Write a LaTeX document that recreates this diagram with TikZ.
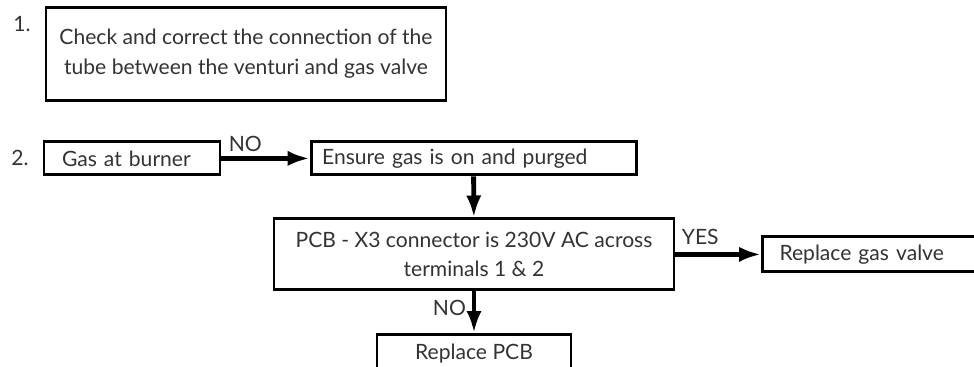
\documentclass[tikz,border=0pt]{standalone}
\usepackage{fontspec}
\setmainfont{Lato}
\usepackage{tikz}
\usetikzlibrary{arrows.meta, positioning}

\definecolor{inkgrey}{HTML}{333333}

\begin{document}
\begin{tikzpicture}[
        font=\fontsize{15}{21}\selectfont,
        box/.style={draw=black, line width=2pt, text=inkgrey, inner ysep=0pt},
        flow/.style={line width=3.5pt, -{Latex[length=0.55cm, width=0.38cm]}},
        tag/.style={text=inkgrey, inner sep=1pt}
    ]
        \clip (0, 0) rectangle (24.35, -9.175);

        % Step 1
        \node[tag] (num1) at (0.55, -0.6) {1.};
        \node[box, minimum width=10cm, minimum height=2.325cm, align=center] (step1) at (6.15, -1.34) {Check and correct the connection of the\\tube between the venturi and gas valve};

        % Step 2 - nodes
        \node[tag] (num2) at (0.5, -3.95) {2.};
        \node[box, text width=3.5cm, inner xsep=0.45cm, minimum height=0.825cm] (burner) at (3.3, -3.96) {Gas at burner};
        \node[box, text width=7.575cm, inner xsep=0.275cm, minimum height=0.825cm] (purge) at (11.84, -3.96) {Ensure gas is on and purged};
        \node[box, minimum width=10cm, minimum height=1.775cm, align=center] (pcb) at (11.85, -6.36) {PCB - X3 connector is 230V AC across\\terminals 1 \& 2};
        \node[box, text width=4.825cm, inner xsep=0.425cm, minimum height=0.875cm] (valve) at (21.9, -6.36) {Replace gas valve};
        \node[box, anchor=north, minimum width=4.85cm, text height=0.475cm, text depth=1cm, inner ysep=0.15cm] (newpcb) at (11.85, -8.325) {Replace PCB};

        % Connectors
        \draw[flow] (burner) -- node[tag, pos=0.27, above=2pt] {NO} (purge);
        \draw[flow] (purge) -- (pcb);
        \draw[flow] (pcb) -- node[tag, pos=0.29, above=4pt] {YES} (valve);
        \draw[flow] (pcb) -- node[tag, pos=0.4, left=3pt] {NO} (newpcb);
    \end{tikzpicture}
\end{document}
